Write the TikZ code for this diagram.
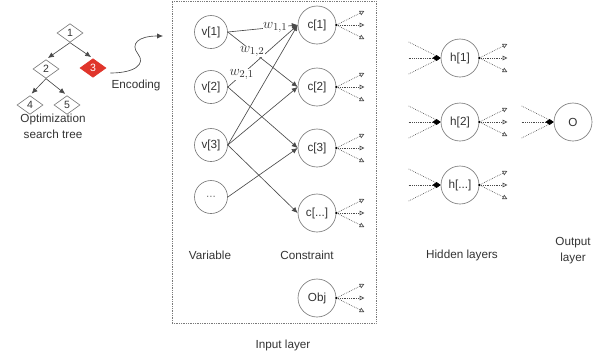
\documentclass[tikz,border=0pt]{standalone}
\usepackage{fontspec}
\setmainfont{Liberation Sans}
\usetikzlibrary{shapes.geometric,arrows.meta}

\definecolor{edgegray}{HTML}{4A4A4A}
\definecolor{linegray}{HTML}{7A7A7A}
\definecolor{txtgray}{HTML}{333333}
\definecolor{nodered}{HTML}{E0352B}

\begin{document}
\begin{tikzpicture}[x=0.03cm,y=-0.03cm,line width=0.55pt,
    font=\fontsize{10}{13.5}\selectfont, text=txtgray,
    treenode/.style={diamond,draw=linegray,minimum width=0.78cm,minimum height=0.56cm,inner sep=0pt,font=\fontsize{9}{10}\selectfont},
    varnode/.style={circle,draw=linegray,minimum size=0.99cm,inner sep=0pt},
    neuron/.style={circle,draw=linegray,minimum size=1.14cm,inner sep=0pt},
    link/.style={draw=edgegray,-{Latex[length=5pt,width=4.5pt]}},
    weight/.style={fill=white,inner sep=0.5pt,font=\fontsize{12.5}{13}\selectfont},
    fanout/.style={draw=edgegray,densely dotted,-{Triangle[open,length=4pt,width=4pt]}},
    fanin/.style={draw=edgegray,densely dotted}]
    \useasboundingbox (0,0) rectangle (608,356);

    % search tree
    \node[treenode] (t1) at (70,33) {1};
    \node[treenode] (t2) at (46,69) {2};
    \node[treenode,fill=nodered,draw=nodered,text=white] (t3) at (93,68) {3};
    \node[treenode] (t4) at (30,105) {4};
    \node[treenode] (t5) at (67,105) {5};
    \draw[link,shorten >=2pt] (t1.south) -- (t2.north);
    \draw[link,shorten >=2pt] (t1.south) -- (t3.north);
    \draw[link,shorten >=2pt] (t2.south) -- (t4.north);
    \draw[link,shorten >=2pt] (t2.south) -- (t5.north);
    \node[align=center] (treelbl) at (53,126) {Optimization\\search tree};

    % encoding
    \coordinate (enc) at (163,36);
    \draw[link] ([shift={(4,5)}]t3.east) .. controls (135,73) and (146,64) .. (138,54)
        .. controls (130,44) and (138,36) .. (enc);
    \node (enclbl) at (136,85) {Encoding};

    % input layer
    \node[draw=linegray,densely dotted,line width=0.5pt,minimum width=6.12cm,minimum height=9.66cm,inner sep=0pt] (inbox) at (274,162) {};
    \node (inlbl) at (283,345) {Input layer};

    \node[varnode] (v1) at (211,32) {v[1]};
    \node[varnode] (v2) at (211,87) {v[2]};
    \node[varnode] (v3) at (211,145) {v[3]};
    \node[varnode,text=linegray] (vn) at (211,197) {...};

    \node[neuron] (c1) at (317,25) {c[1]};
    \node[neuron] (c2) at (317,87) {c[2]};
    \node[neuron] (c3) at (317,148) {c[3]};
    \node[neuron] (cn) at (317,213) {c[...]};
    \node[neuron] (obj) at (317,298) {Obj};

    \node (varlbl) at (210,255) {Variable};
    \node (conlbl) at (307,255) {Constraint};

    \draw[link] (v2.east) -- node[weight,pos=0.2] (w21) {$w_{2,1}$} (c1.west);
    \draw[link] (v1.east) -- node[weight,pos=0.35] (w12) {$w_{1,2}$} (c2.west);
    \draw[link] (v1.east) -- node[weight,pos=0.68] (w11) {$w_{1,1}$} (c1.west);
    \draw[link] (v2.east) -- (c3.west);
    \draw[link] (v3.east) -- (c1.west);
    \draw[link] (v3.east) -- (c2.west);
    \draw[link] (v3.east) -- (cn.west);
    \draw[link] (vn.east) -- (c3.west);

    % hidden and output layers
    \node[neuron] (h1) at (460,58) {h[1]};
    \node[neuron] (h2) at (460,122) {h[2]};
    \node[neuron] (hn) at (460,185) {h[...]};
    \node[neuron] (out) at (573,122) {O};
    \node (hidlbl) at (462,255) {Hidden layers};
    \node[align=center] (outlbl) at (573,251) {Output\\layer};

    \foreach \n in {c1,c2,c3,cn,obj,h1,h2,hn} {
        \coordinate (\n-up) at ([shift={(28,-14)}]\n.east);
        \coordinate (\n-mid) at ([shift={(28,0)}]\n.east);
        \coordinate (\n-dn) at ([shift={(28,14)}]\n.east);
        \draw[fanout] (\n.east) -- (\n-up);
        \draw[fanout] (\n.east) -- (\n-mid);
        \draw[fanout] (\n.east) -- (\n-dn);
        \fill[black] (\n.east) circle (1.3);
    }
    \foreach \n in {h1,h2,hn,out} {
        \coordinate (\n-a) at ([shift={(-32,-16)}]\n.west);
        \coordinate (\n-b) at ([shift={(-32,0)}]\n.west);
        \coordinate (\n-c) at ([shift={(-32,16)}]\n.west);
        \draw[fanin] (\n-a) -- (\n.west);
        \draw[fanin] (\n-c) -- (\n.west);
        \draw[fanin,-{Diamond[length=7pt,width=5pt,color=black]}] (\n-b) -- (\n.west);
    }
\end{tikzpicture}
\end{document}
